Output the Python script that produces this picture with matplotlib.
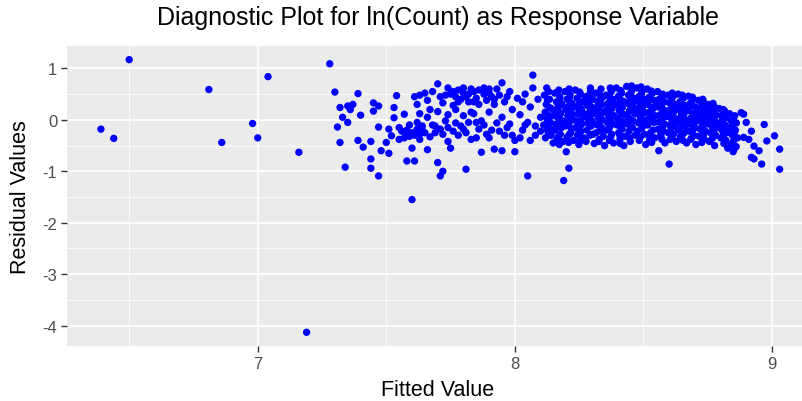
import matplotlib
matplotlib.use("Agg")
import matplotlib.pyplot as plt
from matplotlib.ticker import MultipleLocator

plt.rcParams['font.family'] = ['Liberation Sans', 'DejaVu Sans']
plt.rcParams['axes.unicode_minus'] = False

# sparse points on the left and the lone outlier
sparse_points = [
    (6.39, -0.18), (6.44, -0.36), (6.50, 1.17), (6.81, 0.59), (6.86, -0.44),
    (6.98, -0.07), (7.00, -0.35), (7.04, 0.84), (7.16, -0.63), (7.19, -4.13),
    (7.28, 1.09),
]

# start of the cloud, roughly 7.3 - 7.6
mid_points = [
    (7.30, 0.54), (7.39, 0.51), (7.54, 0.47), (7.32, 0.24), (7.35, 0.27),
    (7.37, 0.30), (7.33, 0.05), (7.36, 0.20), (7.45, 0.33), (7.47, 0.27),
    (7.45, 0.17), (7.40, 0.09), (7.53, 0.24), (7.53, 0.04), (7.31, -0.14),
    (7.35, -0.05), (7.47, -0.14), (7.51, -0.18), (7.52, -0.31), (7.50, -0.44),
    (7.32, -0.44), (7.39, -0.40), (7.41, -0.53), (7.44, -0.42), (7.48, -0.60),
    (7.51, -0.65), (7.44, -0.76), (7.34, -0.92), (7.44, -0.94), (7.47, -1.09),
    (7.57, 0.11), (7.58, -0.28), (7.58, -0.80), (7.55, -0.15), (7.56, -0.22),
    (7.57, -0.35), (7.59, -0.10), (7.55, -0.38), (7.58, -0.20), (7.60, -0.25),
    (7.62, -0.18), (7.59, -0.32), (7.63, -0.28),
]

# 7.6 - 8.1
band_points = [
    (7.61, 0.45), (7.62, 0.30), (7.63, 0.12), (7.62, -0.05), (7.64, -0.20),
    (7.61, -0.30), (7.63, -0.38), (7.60, -0.55), (7.61, -0.80), (7.60, -1.55),
    (7.65, 0.52), (7.66, 0.38), (7.67, 0.20), (7.66, 0.05), (7.68, -0.10),
    (7.65, -0.25), (7.67, -0.33), (7.66, -0.58), (7.70, -0.83), (7.69, -0.12),
    (7.70, 0.70), (7.71, 0.45), (7.72, 0.33), (7.70, 0.16), (7.73, -0.02),
    (7.71, -0.18), (7.72, -0.28), (7.74, -0.42), (7.71, -1.09), (7.72, -1.00),
    (7.75, 0.50), (7.76, 0.28), (7.74, 0.10), (7.77, -0.06), (7.76, -0.22),
    (7.75, -0.55), (7.78, 0.58), (7.79, 0.40), (7.78, -0.30), (7.79, -0.12),
    (7.80, 0.52), (7.81, 0.45), (7.82, 0.35), (7.80, 0.08), (7.82, -0.05),
    (7.81, -0.25), (7.83, -0.38), (7.81, -0.96), (7.84, 0.55), (7.85, 0.42),
    (7.86, 0.30), (7.84, 0.12), (7.87, -0.02), (7.86, -0.18), (7.85, -0.35),
    (7.88, 0.50), (7.89, 0.38), (7.88, -0.10), (7.89, -0.28), (7.87, -0.63),
    (7.90, 0.60), (7.91, 0.45), (7.92, 0.30), (7.90, 0.15), (7.93, -0.06),
    (7.91, -0.20), (7.92, -0.57), (7.95, 0.72), (7.94, 0.48), (7.96, 0.35),
    (7.95, 0.05), (7.97, -0.15), (7.96, -0.30), (7.95, -0.60), (7.98, 0.55),
    (7.99, 0.20), (7.98, -0.08), (8.00, -0.40), (8.00, -0.62), (8.01, 0.42),
    (8.02, 0.10), (8.03, -0.20), (8.02, -0.35), (8.04, 0.50), (8.05, -0.05),
    (8.05, -1.09), (8.07, 0.87), (8.07, 0.62), (8.06, 0.25), (8.08, -0.12),
    (8.08, -0.30), (8.09, 0.40), (8.10, 0.05), (8.10, -0.22),
    (7.74, 0.62), (7.76, 0.55), (7.80, 0.62), (7.83, 0.60), (7.86, 0.58),
    (7.90, 0.52), (7.93, 0.60), (7.88, 0.62), (7.82, 0.50), (7.77, 0.45),
    (7.63, 0.48), (7.68, 0.55), (7.73, 0.48), (7.78, 0.35), (7.84, 0.35),
    (7.92, 0.40), (7.97, 0.45), (8.03, 0.35), (7.64, -0.12), (7.69, -0.25),
    (7.74, -0.15), (7.80, -0.18), (7.85, -0.05), (7.90, -0.35), (7.94, -0.22),
    (7.99, -0.30), (8.04, -0.10), (8.06, -0.40), (7.83, 0.15), (7.77, 0.20),
]

# dense part 8.1 - 8.9
dense_points = [
    (8.115, 0.48), (8.122, 0.30), (8.118, 0.15), (8.125, 0.02), (8.112, -0.10), (8.128, -0.22), (8.119, -0.35), (8.124, 0.62),
    (8.135, 0.40), (8.142, 0.22), (8.146, 0.08), (8.138, -0.05), (8.144, -0.18), (8.141, -0.30), (8.149, -0.45),
    (8.155, 0.52), (8.162, 0.35), (8.158, 0.18), (8.166, 0.05), (8.161, -0.08), (8.157, -0.20), (8.164, -0.38), (8.169, 0.28),
    (8.175, 0.45), (8.183, 0.30), (8.178, 0.12), (8.186, -0.02), (8.181, -0.15), (8.177, -0.28), (8.188, -0.42), (8.19, -1.18),
    (8.195, 0.55), (8.203, 0.40), (8.198, 0.20), (8.206, 0.08), (8.201, -0.05), (8.197, -0.12), (8.204, -0.33), (8.20, -0.62), (8.21, -0.94),
    (8.215, 0.48), (8.222, 0.32), (8.218, 0.18), (8.226, 0.00), (8.221, -0.18), (8.217, -0.25), (8.228, -0.40), (8.224, 0.10),
    (8.235, 0.58), (8.242, 0.42), (8.238, 0.25), (8.246, 0.12), (8.241, -0.02), (8.237, -0.15), (8.244, -0.30), (8.249, -0.48),
    (8.255, 0.50), (8.262, 0.35), (8.258, 0.22), (8.266, 0.05), (8.261, -0.08), (8.257, -0.22), (8.268, -0.35), (8.263, 0.15),
    (8.275, 0.45), (8.282, 0.28), (8.278, 0.10), (8.286, -0.05), (8.281, -0.20), (8.277, -0.42), (8.284, 0.38), (8.289, 0.02),
    (8.295, 0.56), (8.303, 0.40), (8.298, 0.25), (8.306, 0.12), (8.301, -0.02), (8.297, -0.12), (8.304, -0.28), (8.309, -0.46),
    (8.315, 0.52), (8.322, 0.36), (8.318, 0.18), (8.326, 0.04), (8.321, -0.10), (8.317, -0.25), (8.328, -0.38), (8.324, 0.28),
    (8.335, 0.60), (8.342, 0.44), (8.338, 0.30), (8.346, 0.15), (8.341, 0.00), (8.337, -0.15), (8.344, -0.32), (8.349, -0.50),
    (8.355, 0.48), (8.362, 0.32), (8.358, 0.20), (8.366, 0.06), (8.361, -0.06), (8.357, -0.20), (8.368, -0.40), (8.363, 0.12),
    (8.375, 0.55), (8.382, 0.40), (8.378, 0.22), (8.386, 0.08), (8.381, -0.08), (8.377, -0.28), (8.384, -0.45), (8.389, 0.30),
    (8.395, 0.62), (8.403, 0.46), (8.398, 0.30), (8.406, 0.18), (8.401, 0.02), (8.397, -0.10), (8.404, -0.25), (8.409, -0.38),
    (8.415, 0.52), (8.422, 0.36), (8.418, 0.24), (8.426, 0.10), (8.421, -0.04), (8.417, -0.18), (8.428, -0.32), (8.424, -0.50),
    (8.435, 0.65), (8.442, 0.48), (8.438, 0.32), (8.446, 0.18), (8.441, 0.05), (8.437, -0.08), (8.444, -0.22), (8.449, -0.42),
    (8.455, 0.58), (8.462, 0.42), (8.458, 0.28), (8.466, 0.12), (8.461, -0.02), (8.457, -0.15), (8.468, -0.30), (8.463, 0.35),
    (8.475, 0.62), (8.482, 0.45), (8.478, 0.22), (8.486, 0.08), (8.481, -0.06), (8.477, -0.22), (8.484, -0.40), (8.489, 0.30),
    (8.495, 0.55), (8.503, 0.40), (8.498, 0.26), (8.506, 0.14), (8.501, 0.00), (8.497, -0.12), (8.504, -0.28), (8.509, -0.48),
    (8.515, 0.60), (8.522, 0.44), (8.518, 0.30), (8.526, 0.16), (8.521, 0.02), (8.517, -0.10), (8.528, -0.25), (8.524, -0.38),
    (8.535, 0.52), (8.542, 0.38), (8.538, 0.22), (8.546, 0.08), (8.541, -0.05), (8.537, -0.20), (8.544, -0.35), (8.549, 0.28),
    (8.555, 0.55), (8.562, 0.40), (8.558, 0.25), (8.566, 0.10), (8.561, -0.04), (8.557, -0.18), (8.568, -0.32), (8.56, -0.60),
    (8.575, 0.50), (8.582, 0.35), (8.578, 0.20), (8.586, 0.06), (8.581, -0.08), (8.577, -0.22), (8.584, -0.45), (8.589, 0.14),
    (8.595, 0.48), (8.603, 0.32), (8.598, 0.18), (8.606, 0.04), (8.601, -0.10), (8.597, -0.25), (8.604, -0.38), (8.60, -0.86),
    (8.615, 0.45), (8.622, 0.30), (8.618, 0.15), (8.626, 0.02), (8.621, -0.12), (8.617, -0.28), (8.628, -0.42), (8.624, 0.22),
    (8.635, 0.50), (8.642, 0.35), (8.638, 0.20), (8.646, 0.06), (8.641, -0.06), (8.637, -0.20), (8.644, -0.33), (8.649, 0.12),
    (8.655, 0.42), (8.662, 0.28), (8.658, 0.12), (8.666, 0.00), (8.661, -0.14), (8.657, -0.26), (8.668, -0.45), (8.663, 0.20),
    (8.675, 0.46), (8.682, 0.32), (8.678, 0.18), (8.686, 0.04), (8.681, -0.08), (8.677, -0.22), (8.684, -0.38),
    (8.695, 0.40), (8.703, 0.25), (8.698, 0.10), (8.706, -0.02), (8.701, -0.15), (8.697, -0.30), (8.704, -0.48), (8.709, 0.16),
    (8.715, 0.38), (8.722, 0.22), (8.718, 0.08), (8.726, -0.05), (8.721, -0.18), (8.717, -0.32), (8.728, 0.28),
    (8.735, 0.34), (8.742, 0.20), (8.738, 0.06), (8.746, -0.08), (8.741, -0.22), (8.737, -0.38), (8.744, 0.12),
    (8.755, 0.30), (8.762, 0.15), (8.758, 0.02), (8.766, -0.12), (8.761, -0.25), (8.757, -0.42), (8.768, 0.22),
    (8.775, 0.26), (8.782, 0.10), (8.778, -0.02), (8.786, -0.15), (8.781, -0.30), (8.777, -0.50),
    (8.795, 0.22), (8.803, 0.08), (8.798, -0.06), (8.806, -0.20), (8.801, -0.35), (8.809, -0.12),
    (8.815, 0.18), (8.822, 0.04), (8.818, -0.10), (8.826, -0.25), (8.821, -0.40), (8.828, -0.55),
    (8.835, 0.12), (8.842, -0.02), (8.838, -0.15), (8.846, -0.30), (8.841, -0.48), (8.849, -0.62),
    (8.855, 0.08), (8.862, -0.06), (8.858, -0.20), (8.866, -0.35), (8.861, -0.52),
]

# more of the dense part, filling between the rows above
dense_points_2 = [
    (8.131, 0.55), (8.127, 0.38), (8.134, 0.24), (8.129, 0.09), (8.133, -0.04), (8.126, -0.16), (8.132, -0.29),
    (8.171, 0.58), (8.174, 0.40), (8.168, 0.22), (8.176, 0.00), (8.172, -0.12), (8.169, -0.33), (8.173, -0.48),
    (8.212, 0.42), (8.208, 0.26), (8.214, 0.05), (8.210, -0.08), (8.213, -0.28), (8.209, -0.44), (8.211, 0.60),
    (8.252, 0.54), (8.249, 0.30), (8.253, 0.18), (8.251, -0.02), (8.254, -0.12), (8.247, -0.27), (8.256, -0.40),
    (8.291, 0.50), (8.288, 0.33), (8.293, 0.18), (8.290, 0.06), (8.287, -0.08), (8.292, -0.30), (8.294, 0.62),
    (8.331, 0.48), (8.328, 0.24), (8.333, 0.09), (8.330, -0.05), (8.334, -0.20), (8.327, -0.42), (8.332, 0.40),
    (8.371, 0.62), (8.369, 0.44), (8.373, 0.27), (8.370, 0.14), (8.374, -0.02), (8.368, -0.15), (8.372, -0.34),
    (8.412, 0.57), (8.409, 0.40), (8.414, 0.12), (8.411, -0.02), (8.413, -0.15), (8.408, -0.30), (8.410, -0.46),
    (8.451, 0.52), (8.448, 0.38), (8.453, 0.22), (8.450, 0.00), (8.452, -0.12), (8.447, -0.35), (8.454, 0.66),
    (8.492, 0.50), (8.489, 0.36), (8.493, 0.16), (8.490, 0.02), (8.494, -0.16), (8.488, -0.34), (8.491, 0.64),
    (8.531, 0.56), (8.528, 0.40), (8.533, 0.24), (8.530, 0.10), (8.534, -0.02), (8.527, -0.30), (8.532, -0.44),
    (8.571, 0.45), (8.569, 0.28), (8.573, 0.14), (8.570, 0.00), (8.574, -0.14), (8.568, -0.27), (8.572, -0.38),
    (8.612, 0.52), (8.609, 0.38), (8.614, 0.25), (8.611, 0.10), (8.613, -0.05), (8.608, -0.18), (8.610, -0.33),
    (8.651, 0.48), (8.648, 0.30), (8.653, 0.16), (8.650, 0.03), (8.652, -0.10), (8.647, -0.32), (8.654, -0.40),
    (8.691, 0.44), (8.689, 0.28), (8.693, 0.12), (8.690, 0.00), (8.694, -0.18), (8.688, -0.35), (8.692, -0.10),
    (8.731, 0.40), (8.728, 0.16), (8.733, 0.02), (8.730, -0.12), (8.734, -0.28), (8.727, -0.44),
    (8.771, 0.32), (8.769, 0.18), (8.773, 0.06), (8.770, -0.08), (8.774, -0.20), (8.768, -0.36),
    (8.812, 0.12), (8.809, 0.00), (8.814, -0.16), (8.811, -0.30), (8.813, -0.46),
    (8.851, 0.02), (8.848, -0.10), (8.853, -0.25), (8.850, -0.42), (8.852, -0.58),
]

# right tail
tail_points = [
    (8.81, 0.20), (8.88, 0.14), (8.89, 0.11), (8.97, -0.09), (8.98, -0.41),
    (9.01, -0.31), (9.03, -0.57), (9.03, -0.96), (8.93, -0.76), (8.96, -0.86),
    (8.92, -0.73), (8.91, -0.38), (8.93, -0.51), (8.92, -0.22), (8.89, -0.34),
    (8.95, -0.60), (8.90, -0.05),
]

all_points = (sparse_points + mid_points + band_points + dense_points
              + dense_points_2 + tail_points)
fitted = [p[0] for p in all_points]
resid = [p[1] for p in all_points]

fig = plt.figure(figsize=(8.03, 4.02), dpi=100)
# the panel runs a little past the right edge of the picture, as in the reference
ax = fig.add_axes([0.0834, 0.137, 0.9298, 0.746])

ax.set_facecolor('#EBEBEB')
for s in ax.spines.values():
    s.set_visible(False)

ax.xaxis.set_major_locator(MultipleLocator(1))
ax.xaxis.set_minor_locator(MultipleLocator(0.5))
ax.yaxis.set_major_locator(MultipleLocator(1))
ax.yaxis.set_minor_locator(MultipleLocator(0.5))
ax.grid(which='major', color='white', linewidth=1.3)
ax.grid(which='minor', color='white', linewidth=0.6)
ax.set_axisbelow(True)

ax.scatter(fitted, resid, s=28, color='#0000FF', edgecolors='none', zorder=3)

ax.set_xlim(6.258, 9.162)
ax.set_ylim(-4.395, 1.435)

ax.tick_params(which='major', length=4, width=1, color='#333333',
               labelcolor='#4D4D4D', labelsize=12, pad=3)
ax.tick_params(which='minor', length=0)

fig.text(0.5455, 0.029, 'Fitted Value', ha='center', va='center', fontsize=15.5)
fig.text(0.025, 0.51, 'Residual Values', ha='center', va='center',
         rotation=90, fontsize=15.5)
fig.text(0.5455, 0.955, 'Diagnostic Plot for ln(Count) as Response Variable',
         ha='center', va='center', fontsize=18)

fig.savefig('out.png', dpi=100)
